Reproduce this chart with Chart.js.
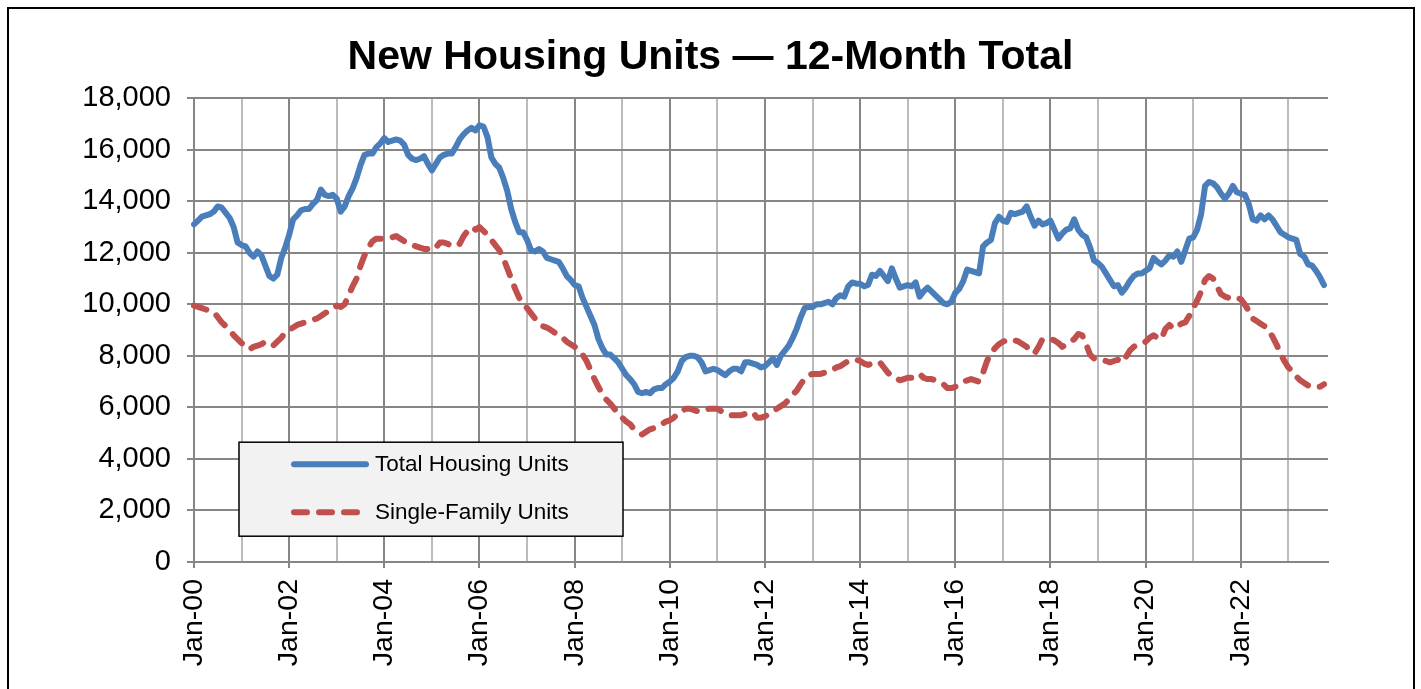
<!DOCTYPE html>
<html>
<head>
<meta charset="utf-8">
<title>New Housing Units — 12-Month Total</title>
<script src="https://cdn.jsdelivr.net/npm/chart.js@4.4.1/dist/chart.umd.min.js"></script>
<style>
  html, body { margin: 0; padding: 0; background: #fff; overflow: hidden; }
  #wrap { position: relative; width: 1421px; height: 689px; }
  #frame { position: absolute; left: 7px; top: 7px; width: 1408px; height: 720px; border: 2px solid #000; box-sizing: border-box; pointer-events: none; }
  canvas { position: absolute; left: 0; top: 0; }
</style>
</head>
<body>
<div id="wrap">
  <canvas id="chart" width="1421" height="689"></canvas>
  <div id="frame"></div>
</div>
<script>
// monthly, Jan 2000 .. Oct 2023 (12-month totals)
const monthNames = ['Jan', 'Feb', 'Mar', 'Apr', 'May', 'Jun', 'Jul', 'Aug', 'Sep', 'Oct', 'Nov', 'Dec'];
const firstYear = 2000;
const axisMonths = 287; // axis runs one month past the last value

const totalUnits = [
    13100, 13250, 13400, 13450, 13500, 13600, 13800, 13750, 13550, 13350, 13000, 12400, // 2000
    12300, 12250, 12000, 11850, 12050, 11900, 11500, 11100, 11000, 11150, 11800, 12200, // 2001
    12700, 13300, 13450, 13650, 13700, 13700, 13900, 14050, 14450, 14250, 14200, 14250, // 2002
    14100, 13600, 13800, 14200, 14500, 14900, 15400, 15800, 15850, 15850, 16100, 16250, // 2003
    16450, 16300, 16350, 16400, 16350, 16200, 15800, 15650, 15600, 15650, 15750, 15450, // 2004
    15200, 15450, 15700, 15800, 15850, 15850, 16100, 16400, 16600, 16750, 16850, 16750, // 2005
    16950, 16900, 16500, 15700, 15450, 15300, 14900, 14400, 13700, 13200, 12800, 12800, // 2006
    12500, 12100, 12050, 12150, 12050, 11800, 11750, 11700, 11650, 11400, 11100, 10950, // 2007
    10750, 10700, 10250, 9900, 9550, 9200, 8650, 8300, 8050, 8050, 7900, 7750,         // 2008
    7500, 7250, 7100, 6900, 6600, 6550, 6600, 6550, 6700, 6750, 6750, 6900,             // 2009
    7000, 7150, 7400, 7800, 7950, 8000, 8000, 7950, 7750, 7400, 7450, 7500,             // 2010
    7450, 7350, 7250, 7400, 7500, 7500, 7400, 7750, 7750, 7700, 7650, 7550,             // 2011
    7600, 7750, 7900, 7650, 8000, 8200, 8400, 8700, 9050, 9500, 9850, 9900,             // 2012
    9900, 10000, 10000, 10050, 10100, 10000, 10250, 10350, 10300, 10700, 10850, 10800,  // 2013
    10800, 10700, 10750, 11150, 11100, 11300, 11100, 10900, 11400, 11000, 10650, 10700, // 2014
    10750, 10700, 10850, 10300, 10500, 10650, 10500, 10350, 10200, 10050, 10000, 10100, // 2015
    10450, 10600, 10900, 11350, 11300, 11250, 11200, 12250, 12400, 12500, 13150, 13400, // 2016
    13250, 13200, 13550, 13500, 13550, 13600, 13800, 13400, 13050, 13250, 13100, 13150, // 2017
    13250, 12900, 12550, 12750, 12900, 12950, 13300, 12900, 12700, 12600, 12200, 11700, // 2018
    11600, 11450, 11200, 10950, 10700, 10750, 10450, 10650, 10900, 11100, 11200, 11200, // 2019
    11300, 11400, 11800, 11650, 11550, 11700, 11900, 11850, 12050, 11650, 12100, 12550, // 2020
    12600, 12900, 13500, 14600, 14750, 14700, 14550, 14300, 14100, 14300, 14600, 14350, // 2021
    14300, 14250, 13900, 13300, 13250, 13450, 13300, 13450, 13300, 13050, 12800, 12700, // 2022
    12600, 12550, 12500, 11950, 11850, 11550, 11500, 11300, 11050, 10750                // 2023
];

const singleFamily = [
    9950, 9900, 9850, 9800, 9750, 9700, 9500, 9300, 9150, 9000, 8800, 8650,             // 2000
    8500, 8350, 8250, 8350, 8400, 8450, 8550, 8500, 8400, 8550, 8700, 8900,             // 2001
    9000, 9100, 9200, 9250, 9300, 9350, 9400, 9450, 9550, 9650, 9750, 9850,             // 2002
    9950, 9900, 10000, 10350, 10700, 11000, 11500, 11900, 12200, 12450, 12550, 12550,   // 2003
    12550, 12600, 12600, 12650, 12550, 12450, 12400, 12300, 12250, 12200, 12150, 12150, // 2004
    12100, 12200, 12400, 12400, 12350, 12250, 12300, 12350, 12650, 12850, 13000, 12900, // 2005
    13000, 12850, 12700, 12500, 12300, 12100, 11800, 11400, 11000, 10600, 10250, 10050, // 2006
    9850, 9650, 9450, 9300, 9150, 9100, 9000, 8900, 8800, 8700, 8550, 8450,             // 2007
    8350, 8200, 8050, 7800, 7450, 7100, 6800, 6500, 6300, 6150, 5950, 5750,             // 2008
    5600, 5450, 5350, 5150, 5050, 4950, 5050, 5150, 5200, 5250, 5350, 5450,             // 2009
    5500, 5600, 5750, 5850, 5950, 5950, 5900, 5850, 5850, 5900, 5950, 5950,             // 2010
    5950, 5850, 5750, 5700, 5700, 5700, 5700, 5750, 5800, 5800, 5600, 5600,             // 2011
    5650, 5750, 5850, 5950, 6050, 6150, 6300, 6500, 6650, 6900, 7100, 7250,             // 2012
    7300, 7300, 7300, 7350, 7400, 7450, 7550, 7600, 7700, 7800, 7850, 7850,             // 2013
    7800, 7700, 7650, 7700, 7750, 7750, 7550, 7350, 7200, 7150, 7050, 7100,             // 2014
    7150, 7150, 7250, 7300, 7150, 7100, 7100, 7050, 6950, 6900, 6750, 6750,             // 2015
    6800, 6900, 7000, 7050, 7100, 7050, 7000, 7350, 7800, 8100, 8300, 8450,             // 2016
    8550, 8600, 8650, 8600, 8550, 8450, 8350, 8150, 8100, 8350, 8650, 8650,             // 2017
    8650, 8600, 8500, 8350, 8450, 8550, 8650, 8850, 8800, 8450, 8050, 7900,             // 2018
    7850, 7850, 7800, 7750, 7800, 7850, 7750, 7950, 8200, 8350, 8450, 8500,             // 2019
    8550, 8700, 8800, 8700, 8650, 9050, 9200, 9050, 9150, 9250, 9300, 9550,             // 2020
    9850, 10150, 10500, 10950, 11100, 11000, 10700, 10400, 10300, 10250, 10300, 10250,  // 2021
    10200, 10000, 9750, 9450, 9350, 9250, 9150, 9000, 8750, 8450, 8100, 7800,           // 2022
    7550, 7400, 7200, 7050, 6950, 6850, 6850, 6800, 6800, 6900                          // 2023
];

const yTicks = { min: 0, max: 18000, step: 2000 };

const labels = [];
for (let i = 0; i < axisMonths; i++) {
    const yy = String((firstYear + Math.floor(i / 12)) % 100).padStart(2, '0');
    labels.push(monthNames[i % 12] + '-' + yy);
}

const DARK = '#868686';
const LIGHT = '#bcbcbc';
const FONT = '"Liberation Sans", Arial, sans-serif';

// legend drawn as a framed grey box inside the plot
const boxLegend = {
    id: 'boxLegend',
    afterDraw(chart) {
        const { ctx, chartArea } = chart;
        const x = chartArea.left + 45, y = chartArea.top + 344, w = 384, h = 94;
        ctx.save();
        ctx.fillStyle = '#f2f2f2';
        ctx.fillRect(x, y, w, h);
        ctx.strokeStyle = '#000';
        ctx.lineWidth = 1.5;
        ctx.strokeRect(x, y, w, h);
        chart.data.datasets.forEach((ds, i) => {
            const ly = y + 22 + i * 48;
            ctx.strokeStyle = ds.borderColor;
            ctx.lineWidth = 6;
            ctx.lineCap = 'round';
            ctx.setLineDash(ds.borderDash || []);
            ctx.beginPath();
            ctx.moveTo(x + 55, ly);
            ctx.lineTo(x + (ds.borderDash ? 126 : 127), ly);
            ctx.stroke();
            ctx.setLineDash([]);
            ctx.fillStyle = '#000';
            ctx.font = '22.5px ' + FONT;
            ctx.textBaseline = 'middle';
            ctx.fillText(ds.label, x + 136, ly + 1);
        });
        ctx.restore();
    }
};

Chart.defaults.font.family = FONT;
Chart.defaults.color = '#000';

new Chart(document.getElementById('chart'), {
    type: 'line',
    data: {
        labels: labels,
        datasets: [
            {
                label: 'Total Housing Units',
                data: totalUnits,
                borderColor: '#4a7ebb',
                borderWidth: 6,
                borderJoinStyle: 'round',
                borderCapStyle: 'round',
                pointRadius: 0,
                tension: 0
            },
            {
                label: 'Single-Family Units',
                data: singleFamily,
                borderColor: '#c0504d',
                borderWidth: 6,
                borderDash: [13, 12],
                borderJoinStyle: 'round',
                borderCapStyle: 'round',
                pointRadius: 0,
                tension: 0
            }
        ]
    },
    options: {
        responsive: false,
        animation: false,
        events: [],
        layout: { padding: 0 },
        plugins: {
            legend: { display: false },
            tooltip: { enabled: false },
            title: {
                display: true,
                text: 'New Housing Units — 12-Month Total',
                color: '#000',
                font: { size: 41, weight: 'bold', family: FONT },
                padding: { top: 33, bottom: 16 }
            }
        },
        scales: {
            x: {
                type: 'category',
                offset: false,
                afterFit: (s) => { s.height = 127; },
                border: { color: DARK, width: 2 },
                grid: {
                    offset: false,
                    lineWidth: 2,
                    tickLength: 6,
                    color: (c) => c.index % 24 === 0 ? DARK : (c.index % 12 === 0 ? LIGHT : 'transparent'),
                    tickColor: (c) => c.index % 24 === 0 ? DARK : 'transparent'
                },
                ticks: {
                    autoSkip: false,
                    minRotation: 90,
                    maxRotation: 90,
                    padding: 11,
                    font: { size: 28.5 },
                    callback: function (value, index) {
                        return index % 24 === 0 ? this.getLabelForValue(value) : '';
                    }
                }
            },
            y: {
                min: yTicks.min,
                max: yTicks.max,
                afterFit: (s) => { s.width = 194; },
                border: { color: DARK, width: 2 },
                grid: { color: DARK, lineWidth: 2, tickLength: 7 },
                ticks: {
                    stepSize: yTicks.step,
                    padding: 16,
                    font: { size: 29 },
                    callback: (v) => v.toLocaleString('en-US')
                }
            },
            // empty right margin so the title centres on the whole canvas
            yRight: {
                position: 'right',
                min: yTicks.min,
                max: yTicks.max,
                afterFit: (s) => { s.width = 93; },
                border: { display: false },
                grid: { display: false, drawOnChartArea: false },
                ticks: { display: false }
            }
        }
    },
    plugins: [boxLegend]
});
</script>
</body>
</html>
